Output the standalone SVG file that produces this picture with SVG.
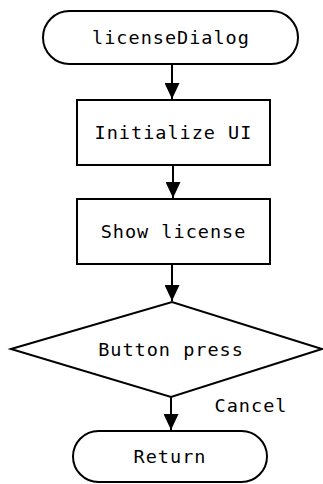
<svg xmlns="http://www.w3.org/2000/svg" width="323" height="484" viewBox="0 0 323 484">
<style>
.s{fill:#fff;stroke:#000;stroke-width:2}
.t{font-family:"DejaVu Sans Mono",monospace;font-size:18.5px;letter-spacing:1px;fill:#000;text-anchor:middle}
.c{stroke:#000;stroke-width:2;fill:none;marker-end:url(#a)}
</style>
<defs>
<marker id="a" markerWidth="16" markerHeight="15" refX="16" refY="7.5" orient="auto" markerUnits="userSpaceOnUse" viewBox="0 0 16 15">
<path d="M0,0 L16,7.5 L0,15 Z" fill="#000"/>
</marker>
</defs>
<rect width="323" height="484" fill="#fff"/>
<g id="connectors">
<line class="c" x1="172" y1="64" x2="172" y2="99"/>
<line class="c" x1="173" y1="165" x2="173" y2="198"/>
<line class="c" x1="172" y1="264" x2="172" y2="301"/>
<line class="c" x1="171" y1="397" x2="171" y2="430"/>
<text class="t" x="251" y="412">Cancel</text>
</g>
<g id="licenseDialog">
<rect class="s" x="43" y="11" width="255" height="53" rx="26.5"/>
<text class="t" x="171" y="44">licenseDialog</text>
</g>
<g id="initUI">
<rect class="s" x="77" y="100" width="193" height="65"/>
<text class="t" x="173.5" y="139">Initialize UI</text>
</g>
<g id="showLicense">
<rect class="s" x="77" y="199" width="193" height="65"/>
<text class="t" x="173.5" y="238">Show license</text>
</g>
<g id="buttonPress">
<polygon class="s" points="11,349 172,302 322,349 171,397"/>
<text class="t" x="171" y="356">Button press</text>
</g>
<g id="return">
<rect class="s" x="73" y="431" width="194" height="51" rx="25.5"/>
<text class="t" x="170" y="463">Return</text>
</g>
</svg>
